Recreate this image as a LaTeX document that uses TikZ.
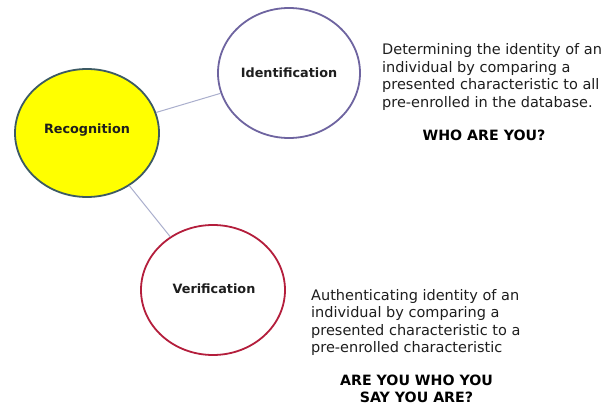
\documentclass[tikz,border=0pt]{standalone}
\usepackage{fontspec}
\setmainfont{DejaVu Sans}
\usetikzlibrary{shapes.geometric}
\definecolor{recfill}{RGB}{255,255,0}
\definecolor{recdraw}{RGB}{60,90,100}
\definecolor{iddraw}{RGB}{110,100,160}
\definecolor{verdraw}{RGB}{180,30,60}
\definecolor{linkcol}{RGB}{170,175,205}
\definecolor{txt}{RGB}{30,30,30}
\tikzset{
  bubble/.style={ellipse, line width=1.8pt, inner sep=0pt},
  lab/.style={font=\fontsize{12.8}{15}\selectfont\bfseries, text=txt, inner sep=0pt},
  link/.style={draw=linkcol, line width=1pt},
  desc/.style={anchor=base west, align=left, inner sep=0pt, font=\fontsize{14.5}{17.5}\selectfont, text=txt},
  ask/.style={anchor=base, align=center, inner sep=0pt, font=\fontsize{14.2}{17}\selectfont\bfseries, text=black}
}
\begin{document}
\begin{tikzpicture}[x=1pt,y=1pt]
\useasboundingbox[fill=white] (0,0) rectangle (611,405);
\node[bubble, fill=recfill, draw=recdraw, minimum width=144pt, minimum height=128pt] (rec) at (87,272) {};
\node[bubble, fill=white, draw=iddraw, minimum width=142pt, minimum height=130pt] (ide) at (289,332) {};
\node[bubble, fill=white, draw=verdraw, minimum width=144pt, minimum height=130pt] (ver) at (213,115) {};
\node[lab] (reclab) at (87,275) {Recognition};
\node[lab] (idelab) at (289,332) {Identification};
\node[lab] (verlab) at (214,116) {Verification};
\draw[link] (rec) -- (ide);
\draw[link] (rec) -- (ver);
\node[desc] (d1) at (382,297.5) {Determining the identity of an\\individual by comparing a\\presented characteristic to all\\pre-enrolled in the database.};
\node[ask] (q1) at (484,264) {WHO ARE YOU?};
\node[desc] (d2) at (311,52.5) {Authenticating identity of an\\individual by comparing a\\presented characteristic to a\\pre-enrolled characteristic};
\node[ask] (q2) at (416.5,2.5) {ARE YOU WHO YOU\\SAY YOU ARE?};
\end{tikzpicture}
\end{document}
